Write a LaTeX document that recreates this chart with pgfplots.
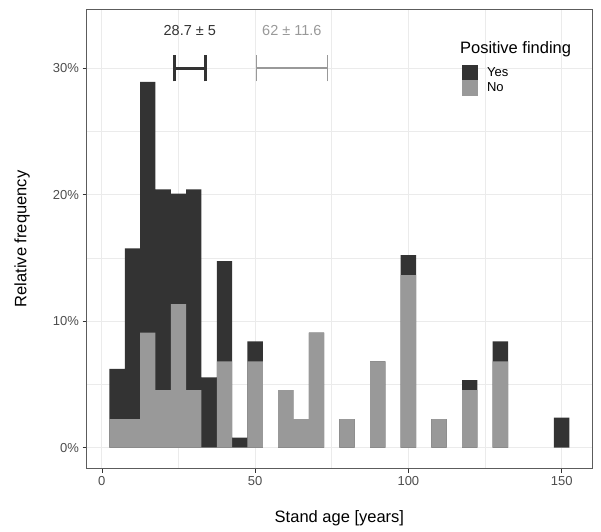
\documentclass[border=0pt]{standalone}
\usepackage{pgfplots}
\pgfplotsset{compat=1.18}
\usepackage{pgfplotstable}
\usepackage{fontspec}
\setmainfont{Liberation Sans}
\definecolor{darkc}{HTML}{333333}
\definecolor{grayc}{HTML}{999999}
\definecolor{grid92}{HTML}{EBEBEB}
\definecolor{grey30}{HTML}{4D4D4D}
\pgfplotstableread{
x no yes
5 2.27 3.97
10 2.27 13.49
15 9.09 19.84
20 4.55 15.87
25 11.36 8.73
30 4.55 15.87
35 0 5.56
40 6.82 7.94
45 0 0.79
50 6.82 1.59
60 4.55 0
65 2.27 0
70 9.09 0
80 2.27 0
90 6.82 0
100 13.64 1.59
110 2.27 0
120 4.55 0.79
130 6.82 1.59
150 0 2.38
}\histdata
\begin{document}
\begin{tikzpicture}
\useasboundingbox (0pt,0pt) rectangle (601pt,531pt);
\begin{axis}[
 at={(86.5pt,62.4pt)}, anchor=south west,
 scale only axis, width=505.8pt, height=459.2pt,
 xmin=-5, xmax=160, ymin=-1.65, ymax=34.65,
 xtick={0,50,100,150}, xticklabels={0,50,100,150},
 ytick={0,10,20,30}, yticklabels={0\%,10\%,20\%,30\%},
 minor xtick={25,75,125}, minor ytick={5,15,25},
 grid=both,
 major grid style={grid92, line width=1.1pt},
 minor grid style={grid92, line width=0.55pt},
 tick align=outside, tick pos=left,
 major tick length=4pt, minor tick length=0pt,
 every tick/.style={darkc, line width=0.6pt},
 axis line style={darkc!80, line width=0.6pt},
 tick label style={font=\fontsize{13}{15}\selectfont, text=grey30},
 /pgf/number format/assume math mode=true,
 xlabel={Stand age [years]}, ylabel={Relative frequency},
 label style={font=\fontsize{16.5}{19}\selectfont},
 xlabel style={at={(axis description cs:0.5,-0.1076)}, anchor=center},
 ylabel style={at={(axis description cs:-0.1275,0.5)}, anchor=center},
 legend style={at={(0.7418,0.8788)}, anchor=north west, draw=none, fill=none,
   inner sep=0pt, outer sep=0pt, row sep=0pt,
   font=\fontsize{13}{15}\selectfont, nodes={inner sep=0pt},
   /tikz/every odd column/.style={column sep=10pt}},
 legend cell align=left,
]
\addplot[ybar, bar width=5, bar shift=0pt, fill=darkc, draw=none, forget plot]
  table[x=x, y expr=\thisrow{no}+\thisrow{yes}] {\histdata};
\addplot[ybar, bar width=5, bar shift=0pt, fill=grayc, draw=none, forget plot]
  table[x=x, y=no] {\histdata};
% error bars
\addplot[darkc, line width=3pt, forget plot] coordinates {(23.7,30) (33.7,30)};
\addplot[darkc, line width=3pt, forget plot] coordinates {(23.7,28.97) (23.7,31.03)};
\addplot[darkc, line width=3pt, forget plot] coordinates {(33.7,28.97) (33.7,31.03)};
\addplot[grayc, line width=1.6pt, forget plot] coordinates {(50.4,30) (73.6,30)};
\addplot[grayc, line width=1.6pt, forget plot] coordinates {(50.4,28.97) (50.4,31.03)};
\addplot[grayc, line width=1.6pt, forget plot] coordinates {(73.6,28.97) (73.6,31.03)};
\node[font=\fontsize{14.5}{17}\selectfont, text=darkc] at (axis cs:28.7,33) {28.7 ± 5};
\node[font=\fontsize{14.5}{17}\selectfont, text=grayc] at (axis cs:62,33) {62 ± 11.6};
\node[anchor=base west, inner sep=0pt, font=\fontsize{16.5}{19}\selectfont] at (axis description cs:0.7382,0.9039) {Positive finding};
\addlegendimage{legend image code/.code={\fill[darkc] (0pt,-7.5pt) rectangle (15pt,7.5pt);}}
\addlegendentry{Yes}
\addlegendimage{legend image code/.code={\fill[grayc] (0pt,-7.5pt) rectangle (15pt,7.5pt);}}
\addlegendentry{No}
\end{axis}
\end{tikzpicture}
\end{document}
